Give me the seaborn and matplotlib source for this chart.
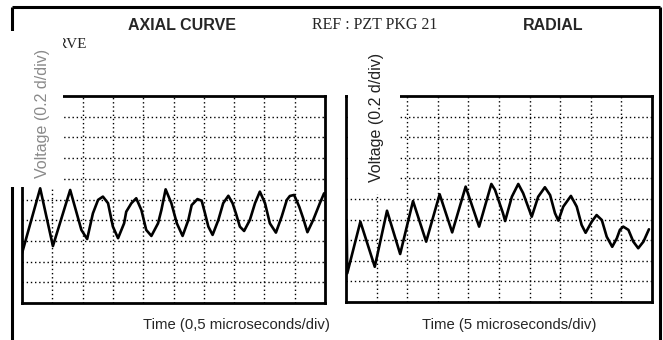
import matplotlib
matplotlib.use("Agg")
import matplotlib.pyplot as plt
from matplotlib.lines import Line2D
from matplotlib.patches import Rectangle
import seaborn as sns
import pandas as pd

# ---- data (grid divisions: 10 x 10) ----
axial_time = [0.00, 0.60, 1.02, 1.59, 1.96, 2.15, 2.34, 2.51, 2.67, 2.84, 3.00, 3.17,
              3.37, 3.44, 3.61, 3.77, 3.94, 4.10, 4.27, 4.49, 4.60, 4.74, 4.93, 5.11,
              5.30, 5.49, 5.60, 5.79, 5.93, 6.04, 6.15, 6.29, 6.48, 6.64, 6.81, 6.95,
              7.06, 7.19, 7.33, 7.52, 7.69, 7.85, 8.02, 8.18, 8.38, 8.57, 8.74, 8.84,
              8.98, 9.15, 9.28, 9.42, 9.61, 9.83, 9.97, 10.0]
axial_voltage = [2.40, 5.54, 2.75, 5.46, 3.53, 3.09, 4.33, 4.98, 5.14, 4.82, 3.69, 3.13,
                 3.85, 4.41, 4.82, 5.06, 4.49, 3.53, 3.24, 3.85, 4.49, 5.49, 4.82, 3.85,
                 3.24, 4.01, 4.73, 5.02, 4.94, 4.33, 3.69, 3.29, 4.01, 4.82, 5.18, 4.82,
                 4.33, 3.69, 3.48, 4.01, 4.82, 5.38, 4.82, 3.85, 3.40, 4.17, 4.98, 5.17,
                 5.22, 4.65, 4.09, 3.42, 4.01, 4.82, 5.30, 5.20]

radial_time = [0.02, 0.04, 0.47, 0.94, 1.34, 1.77, 2.19, 2.62, 3.06, 3.47, 3.91, 4.35,
               4.75, 4.87, 5.13, 5.20, 5.42, 5.63, 5.79, 6.07, 6.28, 6.50, 6.67, 6.83,
               6.94, 7.10, 7.35, 7.54, 7.70, 7.83, 8.03, 8.19, 8.36, 8.52, 8.70, 8.85,
               8.95, 9.06, 9.23, 9.39, 9.55, 9.72, 9.90]
radial_voltage = [3.98, 1.39, 3.90, 1.71, 4.43, 2.33, 4.90, 2.93, 5.23, 3.38, 5.60, 3.66,
                  5.73, 5.44, 4.31, 3.93, 5.11, 5.73, 5.28, 4.14, 5.11, 5.57, 5.19, 4.31,
                  3.95, 4.63, 5.15, 4.63, 3.74, 3.36, 3.90, 4.22, 3.98, 3.17, 2.68, 3.09,
                  3.50, 3.66, 3.50, 2.93, 2.61, 2.93, 3.53]

grid_ticks = [1, 2, 3, 4, 5, 6, 7, 8, 9]

title_left = "AXIAL CURVE"
title_mid = "REF : PZT PKG 21"
title_right = "RADIAL"
ylabel = "Voltage (0.2 d/div)"
xlabel_left = "Time (0,5 microseconds/div)"
xlabel_right = "Time (5 microseconds/div)"
hidden_text = "CURVE"

# ---- style ----
sns.set_style("white")
plt.rcParams["font.family"] = ["Liberation Sans", "DejaVu Sans"]

W, H = 663, 340
fig = plt.figure(figsize=(W / 100, H / 100), dpi=100)


def fx(px):
    return px / W


def fy(py):
    return 1 - py / H


def make_axes(x0, x1, y0, y1):
    return fig.add_axes([fx(x0), fy(y1), fx(x1) - fx(x0), fy(y0) - fy(y1)])


ax1 = make_axes(22, 325, 96, 303)
ax2 = make_axes(346, 652, 96, 302)

df1 = pd.DataFrame({"t": axial_time, "v": axial_voltage})
df2 = pd.DataFrame({"t": radial_time, "v": radial_voltage})

for ax, df in ((ax1, df1), (ax2, df2)):
    ax.set_xlim(0, 10)
    ax.set_ylim(0, 10)
    ax.set_xticks(grid_ticks)
    ax.set_yticks(grid_ticks)
    ax.tick_params(length=0, labelbottom=False, labelleft=False)
    ax.grid(True, color="black", linestyle=(0, (1, 2)), linewidth=1.0)
    ax.set_axisbelow(True)
    for s in ax.spines.values():
        s.set_color("black")
        s.set_linewidth(2)
    sns.lineplot(data=df, x="t", y="v", ax=ax, sort=False, estimator=None,
                 color="black", linewidth=1.9, zorder=3)
    ax.set_xlabel("")
    ax.set_ylabel("")

# ---- outer frame ----
def fline(x0, y0, x1, y1, lw=2.2, z=0.5):
    fig.add_artist(Line2D([fx(x0), fx(x1)], [fy(y0), fy(y1)], color="black",
                          linewidth=lw, zorder=z, solid_capstyle="butt"))

fline(12, 7, 660, 7)
fline(12, 7, 12, 340)
fline(660, 7, 660, 340)

# hidden text under the white box
fig.text(fx(87), fy(45), hidden_text, ha="right", va="center", fontsize=11,
         family="Liberation Serif", zorder=1)

# white boxes behind the axis labels
fig.add_artist(Rectangle((fx(0), fy(187)), fx(63), fy(31) - fy(187),
                         facecolor="white", edgecolor="none", zorder=2))
fig.add_artist(Rectangle((fx(348), fy(194)), fx(400) - fx(348), fy(30) - fy(194),
                         facecolor="white", edgecolor="none", zorder=2))

# ---- texts ----
fig.text(fx(182), fy(25), title_left, ha="center", va="center", fontsize=11.5,
         fontweight="bold", zorder=4)
fig.text(fx(375), fy(25), title_mid, ha="center", va="center", fontsize=11.5,
         family="Liberation Serif", zorder=4)
fig.text(fx(553), fy(25), title_right, ha="center", va="center", fontsize=11.5,
         fontweight="bold", zorder=4)

fig.text(fx(42), fy(113), ylabel, rotation=90, ha="center", va="center",
         fontsize=11.5, color="#8a8a8a", zorder=4)
fig.text(fx(377), fy(117), ylabel, rotation=90, ha="center", va="center",
         fontsize=11.5, color="#222222", zorder=4)

fig.text(fx(236), fy(325), xlabel_left, ha="center", va="center", fontsize=10.7, zorder=4)
fig.text(fx(509), fy(325), xlabel_right, ha="center", va="center", fontsize=10.7, zorder=4)

fig.savefig("out.png", dpi=100, facecolor="white")
